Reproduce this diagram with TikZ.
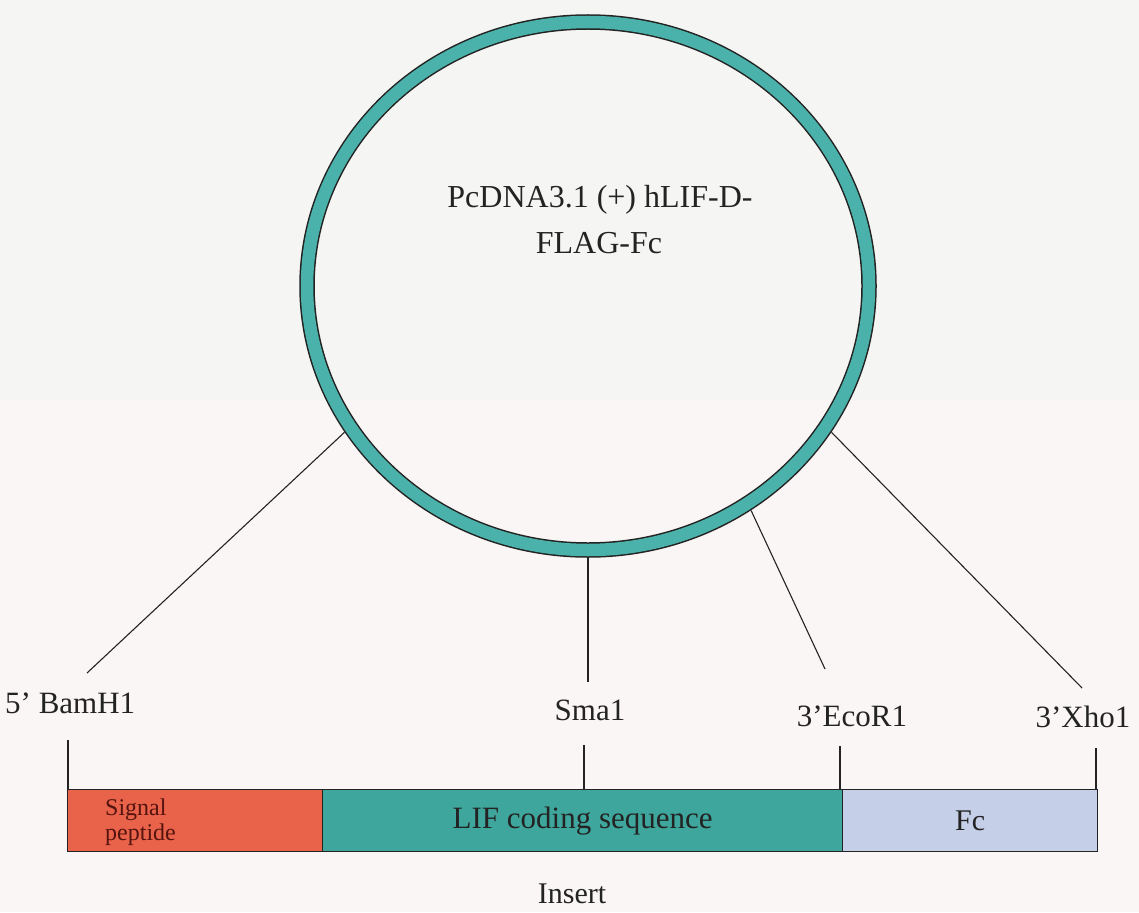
\documentclass[tikz,border=0pt]{standalone}
\usepackage{fontspec}
\setmainfont{Liberation Serif}
\usetikzlibrary{shapes.geometric}

\definecolor{bgtop}{RGB}{245,245,244}
\definecolor{bgbottom}{RGB}{251,246,246}
\definecolor{ringteal}{RGB}{74,178,170}
\definecolor{lifteal}{RGB}{62,166,156}
\definecolor{sigred}{RGB}{233,98,74}
\definecolor{fcblue}{RGB}{197,207,232}
\definecolor{inkdark}{RGB}{35,35,35}
\definecolor{sigtext}{RGB}{85,20,14}

\tikzset{
  plasmid/.style={ellipse, draw=inkdark, line width=1.5pt, double=ringteal,
    double distance=12.5pt, inner sep=0pt, outer sep=8pt,
    minimum width=562pt, minimum height=528pt},
  site/.style={font=\fontsize{31}{36}\selectfont, text=inkdark, inner sep=0pt},
  title/.style={font=\fontsize{32}{38}\selectfont, text=inkdark, inner sep=0pt, anchor=base},
  sigfont/.style={font=\fontsize{24}{25}\selectfont, text=sigtext, inner sep=0pt,
    anchor=base west},
  seg/.style={draw=inkdark, line width=1.3pt, minimum height=62pt, inner sep=0pt,
    anchor=north west},
  link/.style={draw=inkdark, line width=1.1pt},
}

\begin{document}
\begin{tikzpicture}[x=1pt,y=-1pt]
  % paper tones
  \fill[bgtop] (0,0) rectangle (1139,400);
  \fill[bgbottom] (0,400) rectangle (1139,912);
  \useasboundingbox (0,0) rectangle (1139,912);

  % vector ring
  \node[plasmid] (ring) at (588,286) {};
  \node[title] (name1) at (600,207) {PcDNA3.1 (+) hLIF-D-};
  \node[title] (name2) at (599,253) {FLAG-Fc};

  % restriction site labels
  \node[site, anchor=base west] (bam) at (5,713) {5’ BamH1};
  \node[site, anchor=base] (sma) at (590,720) {Sma1};
  \node[site, anchor=base] (eco) at (852,726) {3’EcoR1};
  \node[site, anchor=base] (xho) at (1083,727) {3’Xho1};

  % insert segments
  \node[seg, fill=sigred, minimum width=255pt] (sig) at (67,789) {};
  \node[seg, fill=lifteal, minimum width=520pt] (lif) at (322,789) {};
  \node[seg, fill=fcblue, minimum width=255pt] (fc) at (842,789) {};

  \node[sigfont] (sig1) at (105,815) {Signal};
  \node[sigfont] (sig2) at (105,840) {peptide};
  \node[font=\fontsize{31}{36}\selectfont, text=inkdark] (liftxt) at (lif.center) {LIF coding sequence};
  \node[font=\fontsize{30}{36}\selectfont, text=inkdark] (fctxt) at (fc.center) {Fc};
  \node[font=\fontsize{30}{36}\selectfont, text=inkdark, anchor=base] (ins) at (572,903) {Insert};

  % free ends of the connectors
  \coordinate (eBam) at (87,673);
  \coordinate (eSma) at (588,682);
  \coordinate (eEco) at (825,669);
  \coordinate (eXho) at (1082,688);

  \draw[link] (ring.211.1) -- (eBam);
  \draw[link] (ring.270) -- (eSma);
  \draw[link] (ring.-54.6) -- (eEco);
  \draw[link] (ring.-31) -- (eXho);

  % ticks from labels down to the insert
  \coordinate (tBam) at (68,740);
  \coordinate (tSma) at (584,745);
  \coordinate (tEco) at (840,746);
  \coordinate (tXho) at (1096,748);
  \draw[link] (tBam) -- (tBam |- sig.north);
  \draw[link] (tSma) -- (tSma |- lif.north);
  \draw[link] (tEco) -- (tEco |- lif.north);
  \draw[link] (tXho) -- (tXho |- fc.north);
\end{tikzpicture}
\end{document}
